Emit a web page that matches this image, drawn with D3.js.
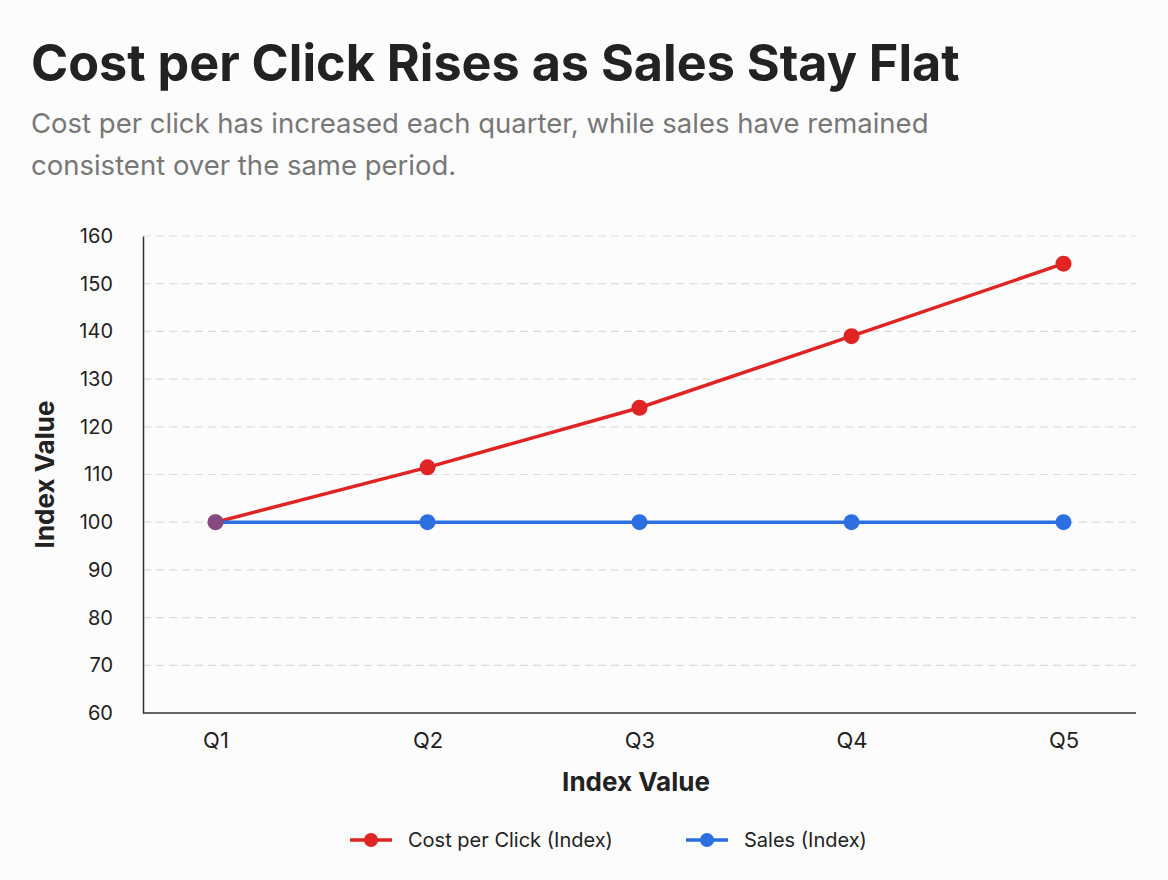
<!DOCTYPE html>
<html>
<head>
<meta charset="utf-8">
<script src="https://cdn.jsdelivr.net/npm/d3@7"></script>
<style>
  body { margin: 0; background: #fcfcfc; }
  svg { display: block; font-family: Inter, "Noto Sans", sans-serif; }
</style>
</head>
<body>
<svg id="chart" width="1168" height="880"></svg>
<script>
"use strict"

// data
const quarters = ["Q1", "Q2", "Q3", "Q4", "Q5"];
const costPerClick = [100, 111.5, 124, 139, 154.2];
const sales = [100, 100, 100, 100, 100];
const yTicks = [60, 70, 80, 90, 100, 110, 120, 130, 140, 150, 160];
const seriesNames = ["Cost per Click (Index)", "Sales (Index)"];
const seriesColors = ["#e02424", "#2b6fe0"];

const margin = { left: 143, right: 32, top: 236, bottom: 167 };
const W = 1168, H = 880;

const svg = d3.select("#chart");

// titles
svg.append("text")
    .attr("x", 31).attr("y", 81)
    .attr("font-size", 50.3).attr("font-weight", 700)
    .attr("fill", "#222")
    .text("Cost per Click Rises as Sales Stay Flat");

const sub = svg.append("text")
    .attr("font-size", 27.5).attr("fill", "#777");
sub.append("tspan").attr("x", 31).attr("y", 133)
    .text("Cost per click has increased each quarter, while sales have remained");
sub.append("tspan").attr("x", 31).attr("y", 175)
    .text("consistent over the same period.");

const x = d3.scalePoint()
    .domain(quarters)
    .range([margin.left, W - margin.right])
    .padding(0.342);

const y = d3.scaleLinear()
    .domain([60, 160])
    .range([H - margin.bottom, margin.top]);

// grid
svg.append("g")
    .selectAll("line")
    .data(yTicks.filter(d => d > 60))
    .join("line")
    .attr("x1", margin.left).attr("x2", W - margin.right)
    .attr("y1", d => y(d)).attr("y2", d => y(d))
    .attr("stroke", "#dcdcdc")
    .attr("stroke-width", 1.2)
    .attr("stroke-dasharray", "8,5");

// axes
const yAxis = svg.append("g")
    .attr("transform", `translate(${margin.left},0)`)
    .call(d3.axisLeft(y).tickValues(yTicks).tickSize(0).tickPadding(30));
yAxis.select(".domain").attr("stroke", "#333").attr("stroke-width", 1.5);
yAxis.selectAll("text").attr("font-size", 20).attr("fill", "#222")
    .attr("font-family", "Inter, sans-serif");

const xAxis = svg.append("g")
    .attr("transform", `translate(0,${H - margin.bottom})`)
    .call(d3.axisBottom(x).tickSize(0).tickPadding(19));
xAxis.select(".domain").attr("stroke", "#333").attr("stroke-width", 1.5)
    .attr("d", `M${margin.left},0H${W - margin.right}`);
xAxis.selectAll("text").attr("font-size", 22).attr("fill", "#222")
    .attr("font-family", "Inter, sans-serif");

// axis titles
svg.append("text")
    .attr("transform", `translate(54,${(margin.top + H - margin.bottom) / 2}) rotate(-90)`)
    .attr("text-anchor", "middle")
    .attr("font-size", 26).attr("font-weight", 700).attr("fill", "#222")
    .text("Index Value");

svg.append("text")
    .attr("x", 636).attr("y", 791)
    .attr("text-anchor", "middle")
    .attr("font-size", 26).attr("font-weight", 700).attr("fill", "#222")
    .text("Index Value");

// lines and points
const series = [costPerClick, sales];
const line = d3.line().x((d, i) => x(quarters[i])).y(d => y(d));

series.forEach((vals, s) => {
    svg.append("path")
        .datum(vals)
        .attr("d", line)
        .attr("fill", "none")
        .attr("stroke", seriesColors[s])
        .attr("stroke-width", 3.5);
});

series.forEach((vals, s) => {
    svg.append("g")
        .selectAll("circle")
        .data(vals)
        .join("circle")
        .attr("cx", (d, i) => x(quarters[i]))
        .attr("cy", d => y(d))
        .attr("r", 8)
        .attr("fill", seriesColors[s])
        // where a point sits on top of another series' point, it shows through
        .attr("fill-opacity", (d, i) => s > 0 && series[0][i] === d ? 0.5 : 1);
});

// legend
const legendX = [350, 686];
const legend = svg.append("g")
    .selectAll("g")
    .data(seriesNames)
    .join("g")
    .attr("transform", (d, i) => `translate(${legendX[i]},840)`);
legend.append("line")
    .attr("x1", 0).attr("x2", 42)
    .attr("stroke", (d, i) => seriesColors[i])
    .attr("stroke-width", 3.5);
legend.append("circle")
    .attr("cx", 21).attr("r", 7)
    .attr("fill", (d, i) => seriesColors[i]);
legend.append("text")
    .attr("x", 58).attr("dy", "0.35em")
    .attr("font-size", 20).attr("fill", "#222")
    .text(d => d);
</script>
</body>
</html>
